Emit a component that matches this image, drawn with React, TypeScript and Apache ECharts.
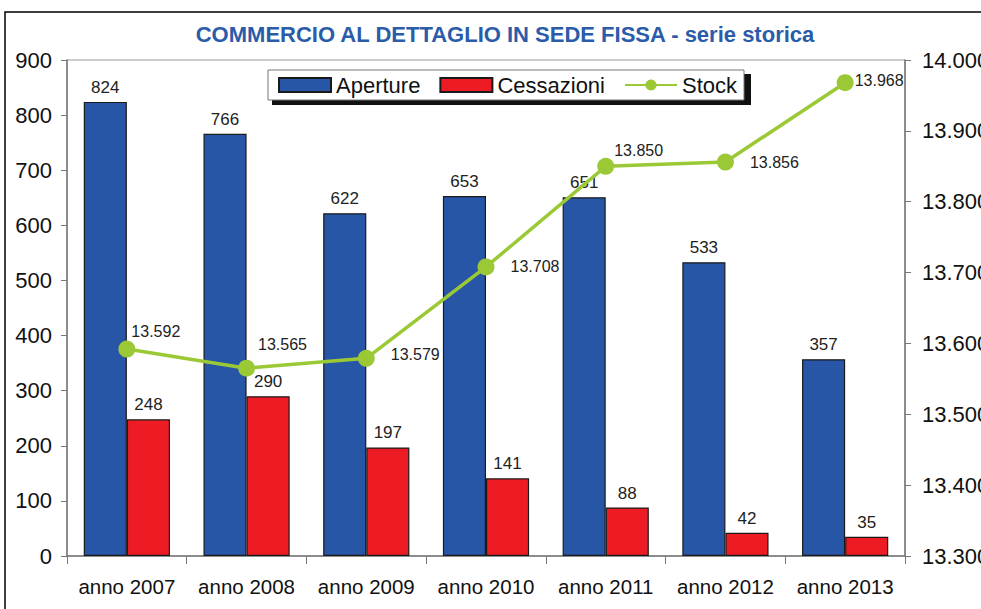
import React, { useEffect, useRef } from "react";
import * as echarts from "echarts";

const categories = ["anno 2007", "anno 2008", "anno 2009", "anno 2010", "anno 2011", "anno 2012", "anno 2013"];
const aperture = [824, 766, 622, 653, 651, 533, 357];
const cessazioni = [248, 290, 197, 141, 88, 42, 35];
const stock = [13592, 13565, 13579, 13708, 13850, 13856, 13968];
const stockLabelOffsets = [[-9, -18], [-2, -24], [11, -4], [11, 0], [-5, -16], [11, 0], [-4, -2]];

const fmtThousands = (v: number) => {
  const s = Math.round(v).toString();
  return s.replace(/\B(?=(\d{3})+(?!\d))/g, ".");
};

const FONT = "Liberation Sans, Arial, sans-serif";

export default function App() {
  const ref = useRef<HTMLDivElement>(null);
  useEffect(() => {
    document.body.style.margin = "0";
    const chart = echarts.init(ref.current!, null, { renderer: "svg" });
    chart.setOption({
      animation: false,
      backgroundColor: "#fff",
      textStyle: { fontFamily: FONT },
      title: {
        text: "COMMERCIO AL DETTAGLIO IN SEDE FISSA - serie storica",
        left: 500,
        textAlign: "center",
        top: 18,
        textStyle: { color: "#2B5CAA", fontSize: 22, fontWeight: "bold", fontFamily: FONT },
      },
      graphic: [
        { type: "rect", z: 0, shape: { x: 5, y: 12, width: 1100, height: 800 }, style: { fill: "none", stroke: "#000", lineWidth: 1.5 } },
        { type: "rect", z: 1, shape: { x: 272, y: 74, width: 479, height: 31 }, style: { fill: "#111" } },
      ],
      legend: {
        z: 5,
        left: 268,
        top: 70,
        padding: [4, 7, 4, 10],
        itemGap: 19,
        itemWidth: 52,
        itemHeight: 14,
        backgroundColor: "#fff",
        borderColor: "#777",
        borderWidth: 1,
        borderRadius: 0,
        textStyle: { fontSize: 22, color: "#111", fontFamily: FONT },
        data: [
          { name: "Aperture", icon: "rect" },
          { name: "Cessazioni", icon: "rect" },
          { name: "Stock" },
        ],
      },
      grid: {
        left: 67,
        right: 76,
        top: 60,
        bottom: 53,
        show: true,
        borderColor: "#999",
        borderWidth: 1,
        outerBoundsMode: "none",
        containLabel: false,
      },
      xAxis: {
        type: "category",
        data: categories,
        axisLine: { lineStyle: { color: "#777", width: 1.5 } },
        axisTick: { show: true, length: 8, lineStyle: { color: "#777" } },
        axisLabel: { interval: 0, fontSize: 20.5, color: "#111", margin: 20, fontFamily: FONT },
      },
      yAxis: [
        {
          type: "value",
          min: 0,
          max: 900,
          interval: 100,
          position: "left",
          splitLine: { show: false },
          axisLine: { show: true, lineStyle: { color: "#777", width: 1.5 } },
          axisTick: { show: true, length: 6, lineStyle: { color: "#777" } },
          axisLabel: { fontSize: 22, color: "#111", margin: 15, fontFamily: FONT },
        },
        {
          type: "value",
          min: 13300,
          max: 14000,
          interval: 100,
          position: "right",
          splitLine: { show: false },
          axisLine: { show: true, lineStyle: { color: "#777", width: 1.5 } },
          axisTick: { show: true, length: 6, lineStyle: { color: "#777" } },
          axisLabel: { fontSize: 22, color: "#111", margin: 17, fontFamily: FONT, formatter: (v: number) => fmtThousands(v) },
        },
      ],
      series: [
        {
          name: "Aperture",
          type: "bar",
          data: aperture,
          barGap: "0%",
          barCategoryGap: "28%",
          itemStyle: { color: "#2756A6", borderColor: "#1a1a1a", borderWidth: 1.2 },
          label: { show: true, position: "top", distance: 6, fontSize: 17, color: "#222", fontFamily: FONT },
        },
        {
          name: "Cessazioni",
          type: "bar",
          data: cessazioni,
          itemStyle: { color: "#ED1C24", borderColor: "#1a1a1a", borderWidth: 1.2 },
          label: { show: true, position: "top", distance: 6, fontSize: 17, color: "#222", fontFamily: FONT },
        },
        {
          name: "Stock",
          type: "line",
          yAxisIndex: 1,
          data: stock.map((v, i) => ({ value: v, label: { offset: stockLabelOffsets[i] } })),
          symbol: "circle",
          symbolSize: 17,
          z: 10,
          lineStyle: { color: "#9BC935", width: 3.5 },
          itemStyle: { color: "#9BC935" },
          label: {
            show: true,
            position: "right",
            distance: 5,
            fontSize: 16,
            color: "#222",
            fontFamily: FONT,
            formatter: (p: any) => fmtThousands(p.value),
          },
        },
      ],
    });
    return () => chart.dispose();
  }, []);
  return <div ref={ref} style={{ width: 981, height: 609 }} />;
}
